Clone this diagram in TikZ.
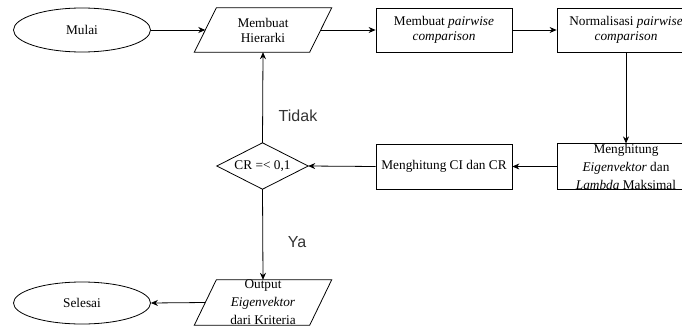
\documentclass[tikz,border=0pt]{standalone}
\usepackage{fontspec}
\setmainfont{Liberation Serif}
\newfontfamily\arialf{Liberation Sans}
\usetikzlibrary{shapes.geometric,arrows.meta}
\begin{document}
\begin{tikzpicture}[x=1pt,y=-1pt,
  txt/.style={font=\fontsize{13.3}{15}\selectfont, align=center, inner sep=0pt},
  txtthree/.style={font=\fontsize{13.3}{18}\selectfont, align=center, inner sep=0pt},
  stepbox/.style={draw, line width=0.8pt, minimum width=136pt, minimum height=44pt},
  term/.style={ellipse, draw, line width=0.8pt, minimum width=137pt, minimum height=44pt, inner sep=0pt},
  ghost/.style={minimum width=115pt, minimum height=44pt},
  shp/.style={draw, line width=0.8pt},
  conn/.style={line width=0.8pt},
  arr/.style={conn, -{Stealth[length=7pt,width=6pt]}},
  lab/.style={font=\arialf\fontsize{16}{18}\selectfont, text=black!80}
]
\useasboundingbox (0,0) rectangle (682,329);
\clip (0,0) rectangle (682,329);

% terminals
\node[term, txt] (m) at (82,30) {Mulai};
\node[term, txt, minimum height=42pt] (s) at (82,303) {Selesai};

% Hierarki (parallelogram)
\node[ghost, txt] (h) at (263,30) {Membuat\\Hierarki};
\draw[shp] ([xshift=11pt]h.north west) -- ([xshift=11pt]h.north east)
  -- ([xshift=-11pt]h.south east) -- ([xshift=-11pt]h.south west) -- cycle;

% boxes
\node[stepbox, txt] (b1) at (444,30) {Membuat \textit{pairwise}\\\textit{comparison}};
\node[stepbox, txt, minimum width=138pt] (b2) at (626,30) {Normalisasi \textit{pairwise}\\\textit{comparison}};
\node[stepbox, txtthree, minimum width=138pt, minimum height=45pt] (e) at (626,166.5) {Menghitung\\\textit{Eigenvektor} dan\\\textit{Lambda} Maksimal};
\node[stepbox, txt, minimum height=45pt] (ci) at (444,166.5) {Menghitung CI dan CR};

% decision
\node[minimum width=91pt, minimum height=46pt, txt] (d) at (262.5,166) {CR =< 0,1};
\draw[shp] (d.north) -- (d.east) -- (d.south) -- (d.west) -- cycle;

% output (parallelogram)
\node[ghost, txtthree, minimum height=45pt] (o) at (263,302.5) {Output\\\textit{Eigenvektor}\\dari Kriteria};
\draw[shp] ([xshift=11pt]o.north west) -- ([xshift=11pt]o.north east)
  -- ([xshift=-11pt]o.south east) -- ([xshift=-11pt]o.south west) -- cycle;

% connectors
\draw[arr] (m.east) -- (h.west);
\draw[arr] (h.east) -- (b1.west);
\draw[arr] (b1.east) -- (b2.west);
\draw[arr] (b2.south) -- (e.north);
\draw[arr] (e.west) -- (ci.east);
\draw[arr] (ci.west) -- (d.east);
\draw[arr] (d.north) -- (h.south);
\draw[arr] (d.south) -- (o.north);
\draw[arr] (o.west) -- (s.east);

% labels
\node[lab] (tidak) at (298,116) {Tidak};
\node[lab] (ya) at (297,242) {Ya};
\end{tikzpicture}
\end{document}
